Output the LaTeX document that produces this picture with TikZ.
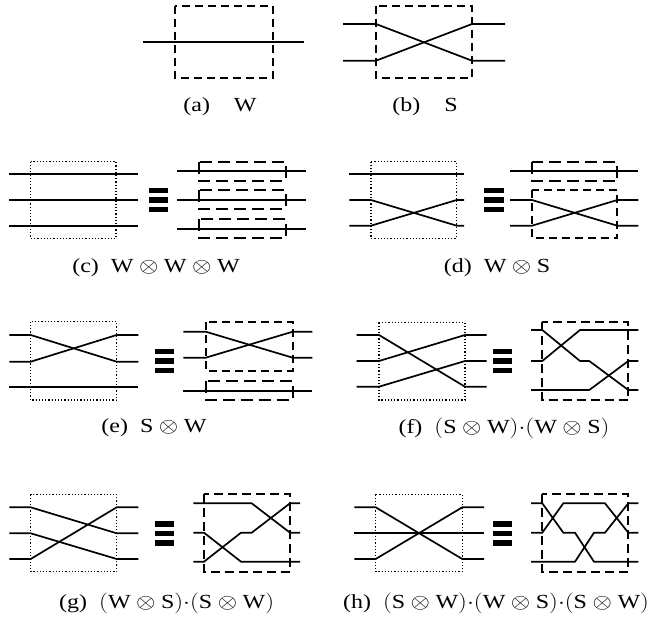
\documentclass[tikz,border=0pt]{standalone}
\usepackage{fontspec}
\setmainfont{Liberation Serif}
\usepackage{graphicx}
\usepackage{tikz}

\tikzset{
  wire/.style={line width=1.7pt, line join=miter},
  sbox/.style={line width=1.7pt, dash pattern=on 8pt off 5pt},
  wbox/.style={line width=1.7pt, dash pattern=on 12pt off 6pt},
  bigbox/.style={line width=1.7pt, dash pattern=on 9pt off 5pt},
  lhs/.style={line width=1.2pt, dotted},
  subcap/.style={font=\fontsize{20}{24}\selectfont, anchor=center}
}
\newcommand{\eqbars}[2]{%
  \foreach \k in {-1,0,1}
    \fill (#1,#2+\k*9.5-2.75) rectangle ++(19.5,5.5);}
\newcommand{\Wg}{\mathrm{W}}
\newcommand{\Sg}{\mathrm{S}}
\newcommand{\wide}[2][1.2]{\scalebox{#1}[1]{#2}}

\begin{document}
\begin{tikzpicture}[x=1pt, y=-1pt]
   \useasboundingbox (0,0) rectangle (649,618);

   % (a) W and (b) S
   \draw[sbox] (175,6) rectangle (273,78);
   \draw[wire] (143,42.3) -- (304,42.3);
   \node[subcap] (capa) at (220,107) {\wide{(a)\hspace{1em}W}};

   \draw[sbox] (376,6) rectangle (472,78);
   \draw[wire] (343,24) -- (376,24) -- (472,60.7) -- (505,60.7);
   \draw[wire] (343,60.7) -- (376,60.7) -- (472,24) -- (505,24);
   \node[subcap] (capb) at (425,107) {\wide{(b)\hspace{1em}S}};

   % (c)
   \draw[lhs] (30.7,161.7) rectangle (116,238.3);
   \foreach \y in {174,200,225.7}
      \draw[wire] (9.3,\y) -- (137.7,\y);
   \eqbars{148.5}{200}
   \draw[wbox] (199.3,161.7) rectangle (285.7,180.7);
   \draw[wbox] (199.3,190) rectangle (285.7,209);
   \draw[wbox] (199.3,218.7) rectangle (285.7,238.3);
   \foreach \y in {171,200,228.7}
      \draw[wire] (177,\y) -- (305.7,\y);
   \node[subcap] (capc) at (156,268) {\wide{(c)\ \ $\Wg\otimes\Wg\otimes\Wg$}};

   % (d)
   \draw[lhs] (371,161.7) rectangle (456.7,238.3);
   \draw[wire] (349.3,174) -- (464,174);
   \draw[wire] (349.3,200) -- (371,200) -- (456.7,225.7) -- (464,225.7);
   \draw[wire] (349.3,225.7) -- (371,225.7) -- (456.7,200) -- (464,200);
   \eqbars{484}{200}
   \draw[wbox] (532,161.7) rectangle (617.3,181);
   \draw[sbox] (532,190) rectangle (617.3,238.3);
   \draw[wire] (510,171) -- (638.3,171);
   \draw[wire] (510,200) -- (532,200) -- (617.3,225.7) -- (638.3,225.7);
   \draw[wire] (510,225.7) -- (532,225.7) -- (617.3,200) -- (638.3,200);
   \node[subcap] (capd) at (497,268) {\wide{(d)\ \ $\Wg\otimes\Sg$}};

   % (e)
   \draw[lhs] (30.7,321.7) rectangle (116.7,400);
   \draw[wire] (9.3,335) -- (30.7,335) -- (116.7,361.7) -- (138.3,361.7);
   \draw[wire] (9.3,361.7) -- (30.7,361.7) -- (116.7,335) -- (138.3,335);
   \draw[wire] (9.3,386.7) -- (138.3,386.7);
   \eqbars{154.5}{361}
   \draw[sbox] (205.7,322.3) rectangle (292.7,370.7);
   \draw[wbox] (205.7,381) rectangle (292.7,400);
   \draw[wire] (183.3,331.7) -- (205.7,331.7) -- (292.7,357.7) -- (312.3,357.7);
   \draw[wire] (183.3,357.7) -- (205.7,357.7) -- (292.7,331.7) -- (312.3,331.7);
   \draw[wire] (183.3,390.7) -- (312.3,390.7);
   \node[subcap] (cape) at (154,428) {\wide{(e)\ \ $\Sg\otimes\Wg$}};

   % (f)
   \draw[lhs] (379,322.3) rectangle (465,400);
   \draw[wire] (356.7,335) -- (379,335) -- (465,386.7) -- (486.7,386.7);
   \draw[wire] (356.7,361) -- (379,361) -- (465,335) -- (486.7,335);
   \draw[wire] (356.7,386.7) -- (379,386.7) -- (465,361) -- (486.7,361);
   \eqbars{492.7}{361}
   \draw[bigbox] (542.3,322.3) rectangle (628.3,400);
   \draw[wire] (531,330) -- (542.3,330) -- (580,361) -- (589.3,361) -- (628.3,390) -- (638.3,390);
   \draw[wire] (531,361) -- (542.3,361) -- (580,330) -- (638.3,330);
   \draw[wire] (531,390) -- (589.3,390) -- (628.3,361) -- (638.3,361);
   \node[subcap] (capf) at (504,428) {\wide{(f)\ \ $(\Sg\otimes\Wg){\cdot}(\Wg\otimes\Sg)$}};

   % (g)
   \draw[lhs] (30.7,494.3) rectangle (116.7,571.7);
   \draw[wire] (9.3,507.3) -- (30.7,507.3) -- (116.7,533.3) -- (138.3,533.3);
   \draw[wire] (9.3,533.3) -- (30.7,533.3) -- (116.7,559) -- (138.3,559);
   \draw[wire] (9.3,559) -- (30.7,559) -- (116.7,507.3) -- (138.3,507.3);
   \eqbars{154.5}{533.5}
   \draw[bigbox] (204,494.3) rectangle (290,571.7);
   \draw[wire] (193.3,503.3) -- (251.7,503.3) -- (290,532.7) -- (300,532.7);
   \draw[wire] (193.3,532.7) -- (204,532.7) -- (241,561.7) -- (300,561.7);
   \draw[wire] (193.3,561.7) -- (204,561.7) -- (241,532.7) -- (251.7,532.7) -- (290,503.3) -- (300,503.3);
   \node[subcap] (capg) at (166.7,603) {\wide{(g)\ \ $(\Wg\otimes\Sg){\cdot}(\Sg\otimes\Wg)$}};

   % (h)
   \draw[lhs] (375.7,494.3) rectangle (462.3,571.7);
   \draw[wire] (354.3,507.3) -- (375.7,507.3) -- (462.3,559) -- (484,559);
   \draw[wire] (354.3,533.3) -- (484,533.3);
   \draw[wire] (354.3,559) -- (375.7,559) -- (462.3,507.3) -- (484,507.3);
   \eqbars{492.7}{533.5}
   \draw[bigbox] (542.3,494.3) rectangle (628.3,571.7);
   \draw[wire] (531,503.3) -- (542.3,503.3) -- (563.3,532.7) -- (575,532.7) -- (594,561.7) -- (638.3,561.7);
   \draw[wire] (531,532.7) -- (542.3,532.7) -- (563.3,503.3) -- (605,503.3) -- (628.3,532.7) -- (638.3,532.7);
   \draw[wire] (531,561.7) -- (575,561.7) -- (594,532.7) -- (605,532.7) -- (628.3,503.3) -- (638.3,503.3);
   \node[subcap] (caph) at (496,603) {\wide{(h)\ \ $(\Sg\otimes\Wg){\cdot}(\Wg\otimes\Sg){\cdot}(\Sg\otimes\Wg)$}};
\end{tikzpicture}
\end{document}
